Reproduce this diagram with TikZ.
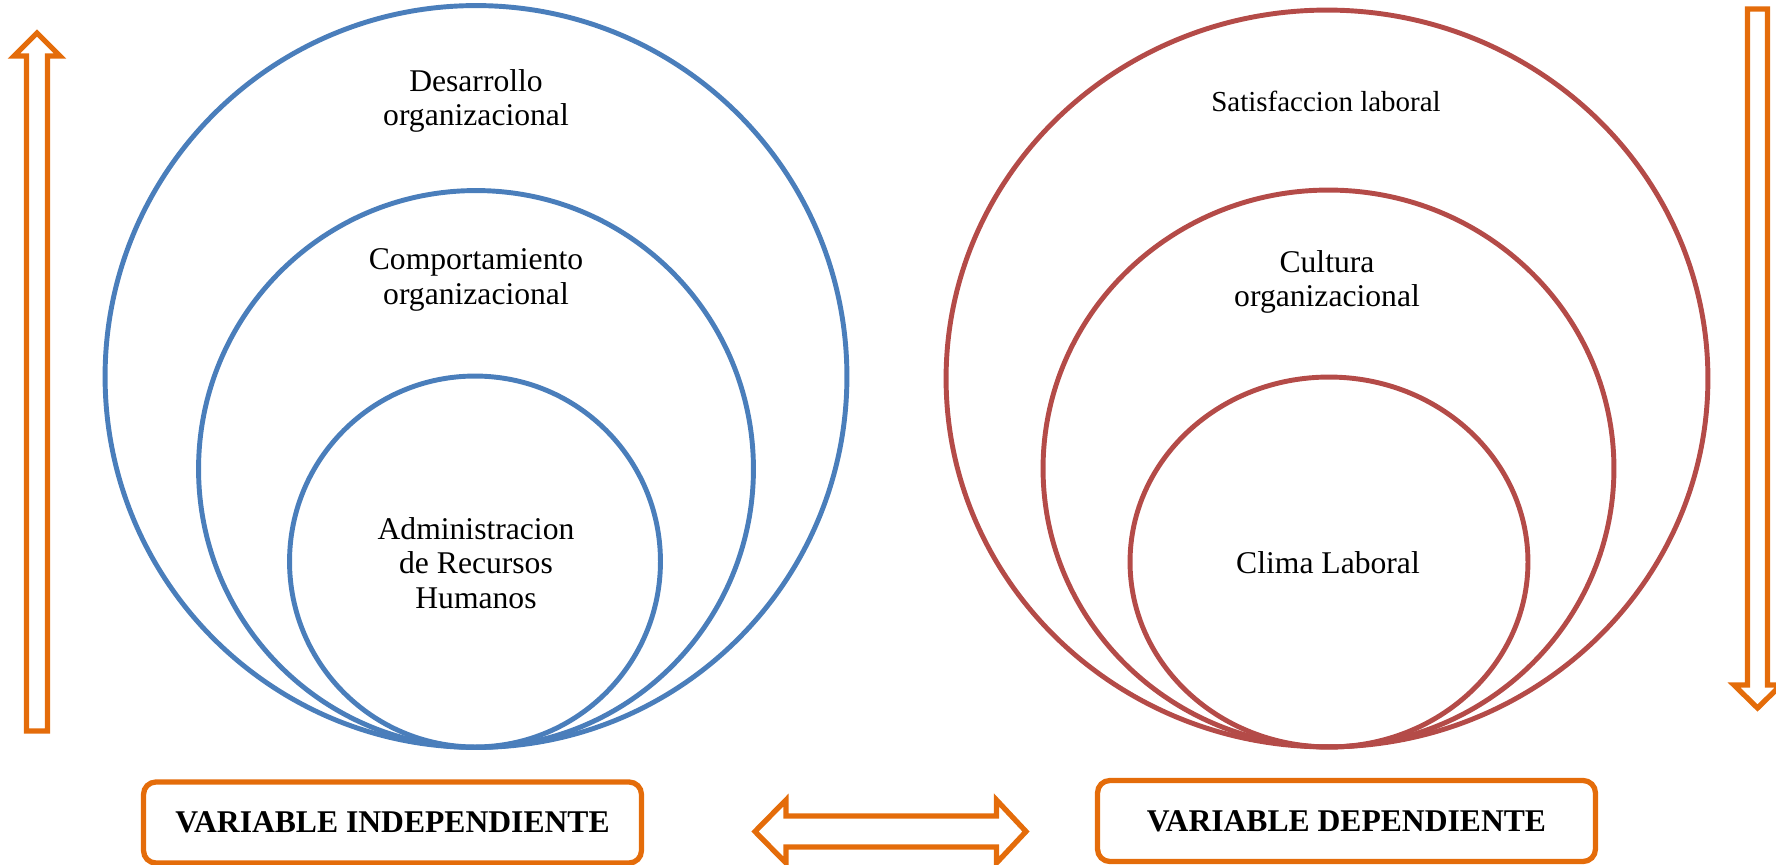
\documentclass[tikz,border=0pt]{standalone}
\usepackage{fontspec}
\setmainfont{Liberation Serif}
\usetikzlibrary{shapes.geometric}
\definecolor{bluering}{HTML}{4A7EBB}
\definecolor{redring}{HTML}{B44B48}
\definecolor{orangeline}{HTML}{E46C0A}

\begin{document}
\begin{tikzpicture}[
        x=0.02cm, y=-0.02cm,
        ring/.style={ellipse, draw, line width=2.8pt, inner sep=0pt},
        txt/.style={align=center, font=\fontsize{18}{19.5}\selectfont},
        varbox/.style={rectangle, draw=orangeline, line width=3pt, rounded corners=7pt, minimum width=9.96cm, minimum height=1.62cm, font=\fontsize{18}{20}\selectfont\bfseries},
        blockarrow/.style={draw=orangeline, line width=3pt, line join=miter}
    ]
        \useasboundingbox (0,0) rectangle (1776,865);

        % Variable independiente
        \node[ring, draw=bluering, minimum width=14.84cm, minimum height=14.84cm] (desarrolloring) at (476,376.5) {};
        \node[ring, draw=bluering, minimum width=11.1cm, minimum height=11.14cm] (comportring) at (476,469) {};
        \node[ring, draw=bluering, minimum width=7.42cm, minimum height=7.42cm] (adminring) at (475,561.5) {};
        \node[txt] (desarrollo) at (476,101) {Desarrollo\\organizacional};
        \node[txt] (comport) at (476,280) {Comportamiento\\organizacional};
        \node[txt] (admin) at (476,563) {Administracion\\de Recursos\\Humanos};

        % Variable dependiente
        \node[ring, draw=redring, minimum width=15.24cm, minimum height=14.74cm] (satisfring) at (1327,378.5) {};
        \node[ring, draw=redring, minimum width=11.42cm, minimum height=11.14cm] (culturaring) at (1328.5,468.5) {};
        \node[ring, draw=redring, minimum width=7.96cm, minimum height=7.4cm] (climaring) at (1329,562) {};
        \node[txt, font=\fontsize{16.5}{19}\selectfont] (satisf) at (1326,101) {Satisfaccion laboral};
        \node[txt] (cultura) at (1327,282) {Cultura\\organizacional};
        \node[txt] (clima) at (1328,563) {Clima Laboral};

        % Cajas
        \node[varbox] (indep) at (392.5,822.5) {VARIABLE INDEPENDIENTE};
        \node[varbox] (dep) at (1346.5,821) {VARIABLE DEPENDIENTE};

        % Flechas
        \draw[blockarrow] (37,33) -- (60,56) -- (47.5,56) -- (47.5,731) -- (26.5,731) -- (26.5,56) -- (14,56) -- cycle;
        \draw[blockarrow] (1757.5,708) -- (1781,685) -- (1767.5,685) -- (1767.5,9) -- (1747.5,9) -- (1747.5,685) -- (1734,685) -- cycle;
        \draw[blockarrow] (755,831.5) -- (786,800) -- (786,816) -- (996.5,816) -- (996.5,800) -- (1026,831.5) -- (996.5,863) -- (996.5,847) -- (786,847) -- (786,863) -- cycle;

    \end{tikzpicture}
\end{document}
